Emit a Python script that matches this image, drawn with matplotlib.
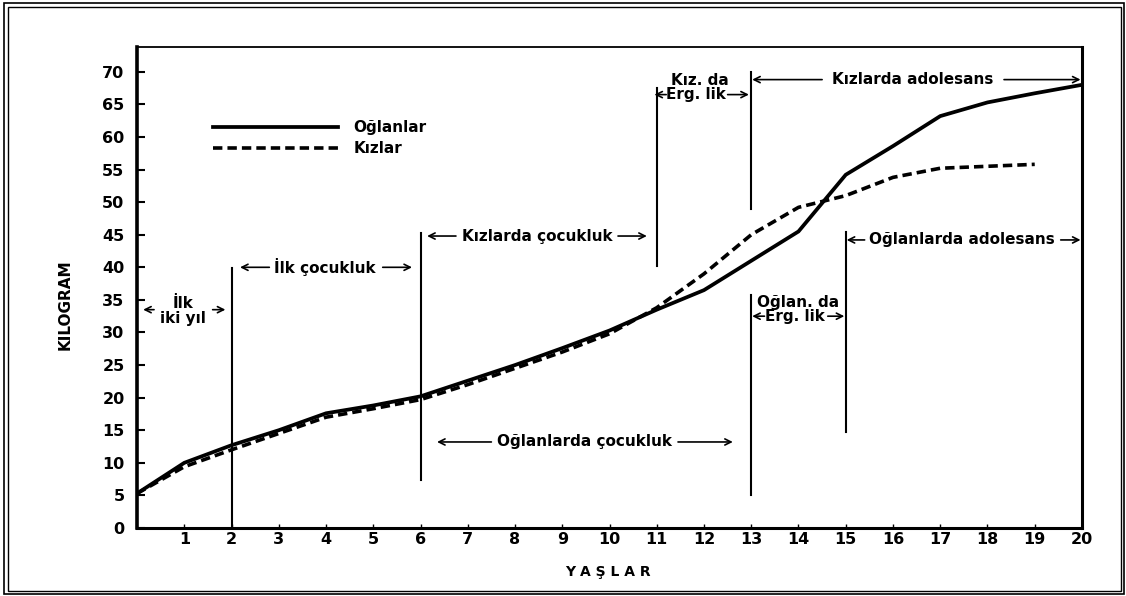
import numpy as np
import matplotlib
matplotlib.use("Agg")
import matplotlib.pyplot as plt
from matplotlib.patches import Rectangle

# weight by age
ages_boys = list(range(0, 21))
boys = [5.3, 10.0, 12.7, 15.0, 17.6, 18.8, 20.2, 22.6, 25.0, 27.6, 30.3,
        33.5, 36.5, 41.0, 45.5, 54.2, 58.6, 63.2, 65.3, 66.7, 68.0]
ages_girls = list(range(0, 20))
girls = [5.3, 9.4, 12.0, 14.5, 17.0, 18.3, 19.7, 22.0, 24.5, 27.0, 29.8,
         33.8, 39.0, 45.0, 49.2, 51.0, 53.8, 55.2, 55.5, 55.8]

x_ticks = list(range(1, 21))
y_ticks = list(range(0, 75, 5))

plt.rcParams['font.family'] = ['DejaVu Sans']
plt.rcParams['font.weight'] = 'bold'

fig = plt.figure(figsize=(11.26, 5.96), dpi=100)
ax = fig.add_axes([0.1217, 0.1141, 0.8392, 0.8070])

ax.plot(ages_boys, boys, color='black', lw=2.7, solid_joinstyle='miter', label='Oğlanlar')
ax.plot(ages_girls, girls, color='black', lw=2.6, dashes=(2.6, 1.4), label='Kızlar')

ax.set_xlim(0, 20)
ax.set_ylim(0, 73.8)
ax.set_xticks(x_ticks)
ax.set_yticks(y_ticks)
ax.tick_params(axis='y', direction='in', length=6, width=1.5, pad=9, labelsize=11.5)
ax.tick_params(axis='x', direction='in', length=3, width=1, pad=3, labelsize=11.5)
for lab in ax.get_xticklabels() + ax.get_yticklabels():
    lab.set_fontweight('bold')

ax.spines['left'].set_linewidth(2.6)
ax.spines['bottom'].set_linewidth(2.2)
ax.spines['right'].set_linewidth(2.2)
ax.spines['top'].set_linewidth(1.3)

leg = ax.legend(loc='upper left', bbox_to_anchor=(0.080, 0.848), frameon=False,
                borderpad=0, borderaxespad=0, handlelength=8.2, handletextpad=1.0,
                labelspacing=0.4, prop={'weight': 'bold', 'size': 11})

# period boundaries
vlines = [(2, 0, 39.9), (6, 7.4, 45.3), (11, 40.2, 67.5), (13, 49.0, 70.0),
          (13, 5.0, 35.8), (15, 14.7, 45.4)]
for x, y0, y1 in vlines:
    ax.plot([x, x], [y0, y1], color='black', lw=1.5)

def arrow(x_tail, x_head, y):
    ax.annotate('', xy=(x_head, y), xytext=(x_tail, y),
                arrowprops=dict(arrowstyle='->', color='black', lw=1.2,
                                shrinkA=0, shrinkB=0, mutation_scale=11))

fs = 11
# İlk iki yıl
ax.text(0.97, 34.5, 'İlk', ha='center', va='center', fontsize=fs, fontweight='bold')
ax.text(0.97, 32.2, 'iki yıl', ha='center', va='center', fontsize=fs, fontweight='bold')
arrow(0.36, 0.13, 33.5)
arrow(1.6, 1.87, 33.5)

# İlk çocukluk
ax.text(3.98, 40.0, 'İlk çocukluk', ha='center', va='center', fontsize=fs, fontweight='bold')
arrow(2.8, 2.18, 40.0)
arrow(5.2, 5.82, 40.0)

# Kızlarda çocukluk
ax.text(8.47, 44.8, 'Kızlarda çocukluk', ha='center', va='center', fontsize=fs, fontweight='bold')
arrow(6.75, 6.14, 44.8)
arrow(10.18, 10.79, 44.8)

# Oğlanlarda çocukluk
ax.text(9.48, 13.2, 'Oğlanlarda çocukluk', ha='center', va='center', fontsize=fs, fontweight='bold')
arrow(7.5, 6.35, 13.2)
arrow(11.45, 12.61, 13.2)

# Kız. da Erg. lik
ax.text(11.92, 68.6, 'Kız. da', ha='center', va='center', fontsize=fs, fontweight='bold')
ax.text(11.82, 66.5, 'Erg. lik', ha='center', va='center', fontsize=fs, fontweight='bold')
arrow(11.2, 10.95, 66.5)
arrow(12.5, 12.95, 66.5)

# Kızlarda adolesans
ax.text(16.42, 68.8, 'Kızlarda adolesans', ha='center', va='center', fontsize=fs, fontweight='bold')
arrow(14.5, 13.02, 68.8)
arrow(18.35, 19.97, 68.8)

# Oğlanlarda adolesans
ax.text(17.46, 44.2, 'Oğlanlarda adolesans', ha='center', va='center', fontsize=fs, fontweight='bold')
arrow(15.4, 15.02, 44.2)
arrow(19.55, 19.97, 44.2)

# Oğlan. da Erg. lik
ax.text(14.0, 34.6, 'Oğlan. da', ha='center', va='center', fontsize=fs, fontweight='bold')
ax.text(13.93, 32.5, 'Erg. lik', ha='center', va='center', fontsize=fs, fontweight='bold')
arrow(13.28, 13.02, 32.5)
arrow(14.62, 14.97, 32.5)

fig.text(65 / 1126, 1 - 305 / 596, 'KILOGRAM', rotation=90, ha='center', va='center',
         fontsize=11, fontweight='bold')
fig.text(608 / 1126, 1 - 572 / 596, 'Y A Ş L A R', ha='center', va='center',
         fontsize=10, fontweight='bold')

# double frame round the picture
fig.patches.append(Rectangle((4 / 1126, 2 / 596), 1120 / 1126, 591 / 596, fill=False,
                             lw=1.2, ec='black', transform=fig.transFigure))
fig.patches.append(Rectangle((8 / 1126, 5 / 596), 1113 / 1126, 584 / 596, fill=False,
                             lw=1.0, ec='black', transform=fig.transFigure))

fig.savefig('out.png', dpi=100)
